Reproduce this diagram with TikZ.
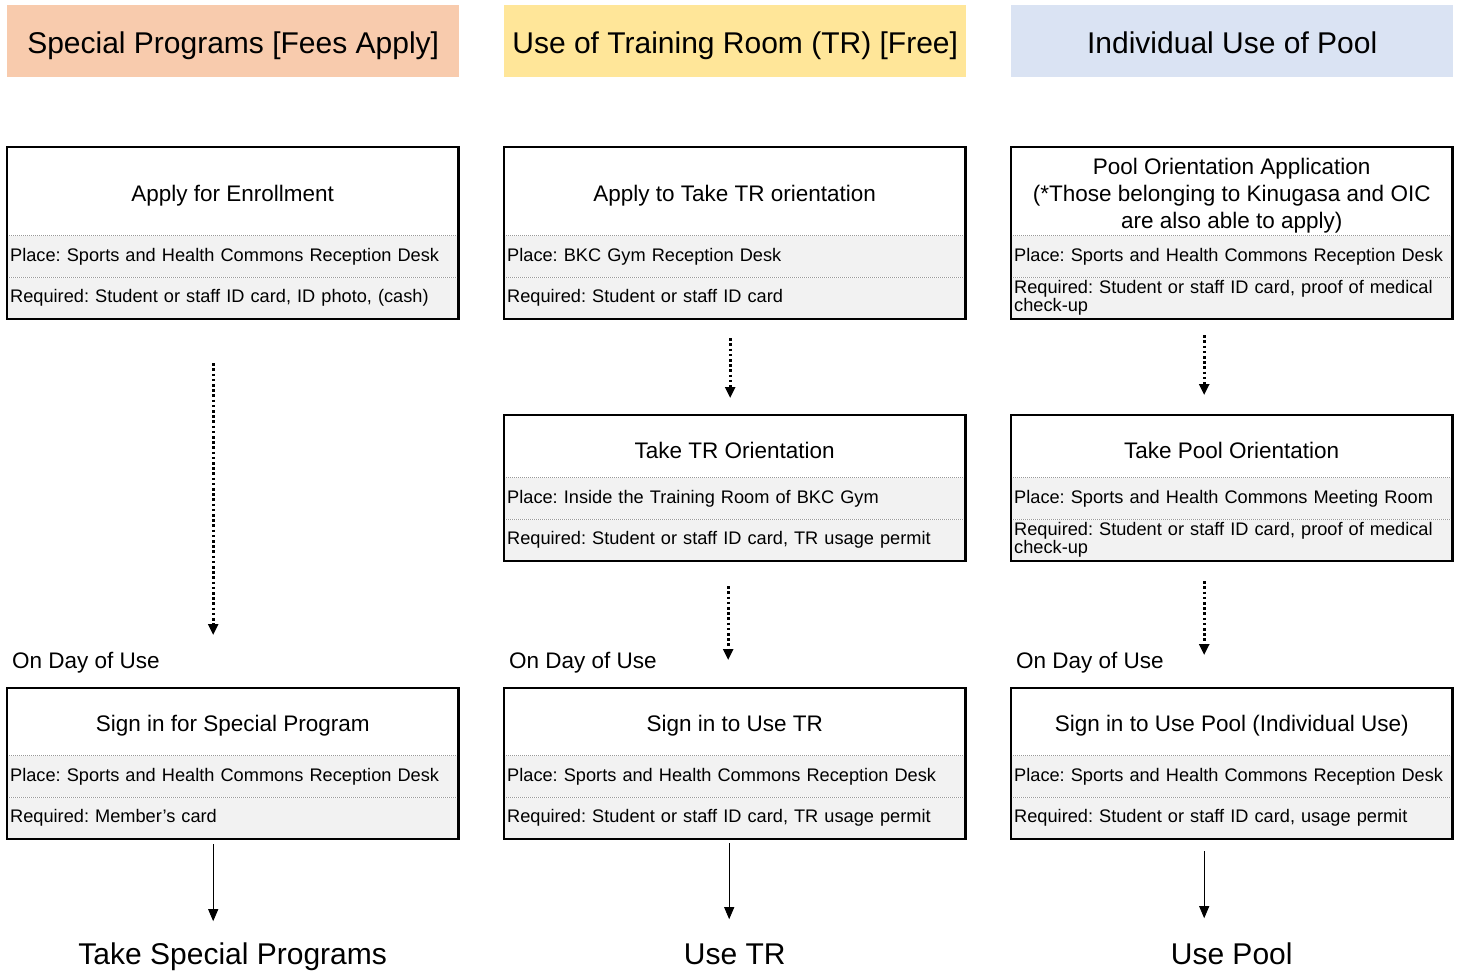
\documentclass[tikz,border=0pt]{standalone}
\usepackage{fontspec}
\setmainfont{Liberation Sans}
\frenchspacing
\usetikzlibrary{arrows.meta,positioning}
\definecolor{peach}{HTML}{F8CBAD}
\definecolor{sun}{HTML}{FFE699}
\definecolor{sky}{HTML}{DAE3F3}
\definecolor{rowgray}{HTML}{F2F2F2}
\newcommand{\headfont}{\fontsize{30}{34}\selectfont}
\newcommand{\titlefont}{\fontsize{22.5}{27}\selectfont}
\newcommand{\rowfont}{\fontsize{18.2}{18}\selectfont}
% name, top left, width, title height, title, place, required
\newcommand{\stepbox}[7]{%
  \node [title cell, minimum height = #4pt - 8pt, minimum width = #3pt]
    (#1-t) at ([yshift = -8pt]#2) {#5};
  \node [row cell, text width = #3pt - 6pt, below = 0pt of #1-t] (#1-p) {#6};
  \node [row cell, text width = #3pt - 6pt, below = 0pt of #1-p] (#1-r) {#7};
  \draw [sep] (#1-p.north west) -- (#1-p.north east);
  \draw [sep] (#1-r.north west) -- (#1-r.north east);
  \draw [frame] ([yshift = 8pt]#1-t.north west) rectangle (#1-r.south east);
}

\begin{document}
\begin{tikzpicture}[x = 1pt, y = -1pt,
    header/.style = {anchor = north west, minimum height = 72pt,
      font = \headfont, inner sep = 0pt, text height = 27pt, text depth = 3pt},
    title cell/.style = {anchor = north west, align = center,
      font = \titlefont, inner sep = 0pt},
    row cell/.style = {fill = rowgray, font = \rowfont, align = left,
      inner xsep = 3pt, inner ysep = 1pt, minimum height = 41.5pt},
    frame/.style = {line width = 2.2pt},
    sep/.style = {gray!80, line width = 0.8pt, dash pattern = on 1pt off 1pt},
    day/.style = {anchor = base west, font = \titlefont, inner sep = 0pt},
    final/.style = {anchor = base, font = \headfont, inner sep = 0pt},
    flow/.style = {line width = 2.6pt, dash pattern = on 2.6pt off 2.6pt,
      -{Triangle[length = 11pt, width = 10pt]}},
    go/.style = {line width = 0.8pt, -{Triangle[length = 12pt, width = 10pt]}},
  ]
  \useasboundingbox (0,0) rectangle (1462,972);

  % column headers
  \node [header, fill = peach, minimum width = 452pt] (special) at (7,5)
    {Special Programs [Fees Apply]};
  \node [header, fill = sun, minimum width = 462pt] (room) at (504,5)
    {Use of Training Room (TR) [Free]};
  \node [header, fill = sky, minimum width = 442pt] (pool) at (1011,5)
    {Individual Use of Pool};

  % first step
  \stepbox{enroll}{7,147}{451}{88}{Apply for Enrollment}
    {Place: Sports and Health Commons Reception Desk}
    {Required: Student or staff ID card, ID photo, (cash)}
  \stepbox{trapply}{504,147}{461}{88}{Apply to Take TR orientation}
    {Place: BKC Gym Reception Desk}
    {Required: Student or staff ID card}
  \stepbox{poolapply}{1011,147}{441}{88}{Pool Orientation Application\\
      (*Those belonging to Kinugasa and OIC\\are also able to apply)}
    {Place: Sports and Health Commons Reception Desk}
    {Required: Student or staff ID card, proof of medical\\check-up}

  % orientation
  \stepbox{trorient}{504,415}{461}{62}{Take TR Orientation}
    {Place: Inside the Training Room of BKC Gym}
    {Required: Student or staff ID card, TR usage permit}
  \stepbox{poolorient}{1011,415}{441}{62}{Take Pool Orientation}
    {Place: Sports and Health Commons Meeting Room}
    {Required: Student or staff ID card, proof of medical\\check-up}

  % day of use
  \stepbox{signsp}{7,688}{451}{67}{Sign in for Special Program}
    {Place: Sports and Health Commons Reception Desk}
    {Required: Member’s card}
  \stepbox{signtr}{504,688}{461}{67}{Sign in to Use TR}
    {Place: Sports and Health Commons Reception Desk}
    {Required: Student or staff ID card, TR usage permit}
  \stepbox{signpool}{1011,688}{441}{67}{Sign in to Use Pool (Individual Use)}
    {Place: Sports and Health Commons Reception Desk}
    {Required: Student or staff ID card, usage permit}

  \node [day] (day1) at ([xshift = 5pt, yshift = 28pt]signsp-t.north west) {On Day of Use};
  \node [day] (day2) at ([xshift = 5pt, yshift = 28pt]signtr-t.north west) {On Day of Use};
  \node [day] (day3) at ([xshift = 5pt, yshift = 28pt]signpool-t.north west) {On Day of Use};

  \node [final] (takesp) at ([yshift = -125pt]signsp-r.south) {Take Special Programs};
  \node [final] (usetr) at ([yshift = -125pt]signtr-r.south) {Use TR};
  \node [final] (usepool) at ([yshift = -125pt]signpool-r.south) {Use Pool};

  % arrows
  \draw [flow] ([xshift = -19.5pt, yshift = -44pt]enroll-r.south)
    -- ([xshift = -19.5pt, yshift = 61pt]signsp-t.north);
  \draw [flow] ([xshift = -4.5pt, yshift = -19pt]trapply-r.south)
    -- ([xshift = -4.5pt, yshift = 25pt]trorient-t.north);
  \draw [flow] ([xshift = -6.5pt, yshift = -25pt]trorient-r.south)
    -- ([xshift = -6.5pt, yshift = 36pt]signtr-t.north);
  \draw [flow] ([xshift = -27.5pt, yshift = -16pt]poolapply-r.south)
    -- ([xshift = -27.5pt, yshift = 28pt]poolorient-t.north);
  \draw [flow] ([xshift = -27.5pt, yshift = -20pt]poolorient-r.south)
    -- ([xshift = -27.5pt, yshift = 41pt]signpool-t.north);
  \draw [go] ([xshift = -19.5pt, yshift = -5pt]signsp-r.south)
    -- ([xshift = -19.5pt, yshift = 43pt]takesp.base);
  \draw [go] ([xshift = -5.5pt, yshift = -4pt]signtr-r.south)
    -- ([xshift = -5.5pt, yshift = 45pt]usetr.base);
  \draw [go] ([xshift = -27.5pt, yshift = -12pt]signpool-r.south)
    -- ([xshift = -27.5pt, yshift = 46pt]usepool.base);
\end{tikzpicture}
\end{document}
